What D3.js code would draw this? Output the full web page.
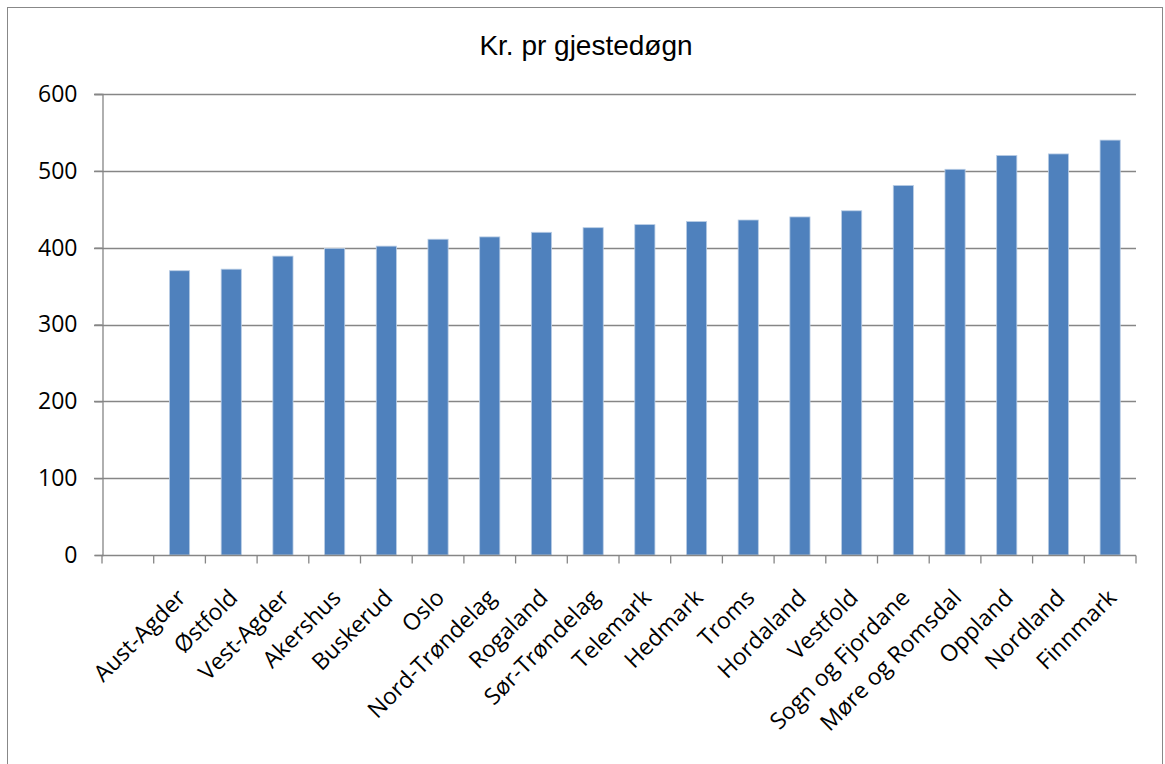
<!DOCTYPE html>
<html>
<head>
<meta charset="utf-8">
<script src="https://cdn.jsdelivr.net/npm/d3@7"></script>
<style>
  body { margin: 0; background: #fff; }
  .title { font-family: "Liberation Sans", Arial, sans-serif; font-size: 28px; }
  .axis text { font-family: "Open Sans", sans-serif; font-size: 23px; fill: #000; }
</style>
</head>
<body>
<svg id="chart"></svg>
<script>
// fylker, sortert etter pris
var fylker = ["", "Aust-Agder", "Østfold", "Vest-Agder", "Akershus", "Buskerud", "Oslo",
  "Nord-Trøndelag", "Rogaland", "Sør-Trøndelag", "Telemark", "Hedmark", "Troms",
  "Hordaland", "Vestfold", "Sogn og Fjordane", "Møre og Romsdal", "Oppland",
  "Nordland", "Finnmark"];
var kroner = [null, 370, 372, 389, 399, 402, 411, 414, 420, 426, 430, 434, 436,
  440, 448, 481, 502, 520, 522, 540];
var yTicks = [0, 100, 200, 300, 400, 500, 600];

var width = 1165,
    height = 764;

var margin = {top: 94, right: 29, bottom: 209, left: 102};

var svg = d3.select("#chart")
    .attr("width", width)
    .attr("height", height);

// ramme rundt diagrammet
svg.append("rect")
    .attr("x", 7.5).attr("y", 7.5)
    .attr("width", 1155).attr("height", 780)
    .attr("fill", "none")
    .attr("stroke", "#888");

var x = d3.scaleBand()
    .domain(fylker.map(function(d, i) { return i; }))
    .range([margin.left, width - margin.right])
    .paddingInner(0.61)
    .paddingOuter(0.305);

var y = d3.scaleLinear()
    .domain([0, 600])
    .range([height - margin.bottom, margin.top]);

svg.append("text")
    .attr("class", "title")
    .attr("x", 586)
    .attr("y", 55)
    .attr("text-anchor", "middle")
    .text("Kr. pr gjestedøgn");

// rutenett
svg.append("g")
    .selectAll("line")
    .data(yTicks.slice(1))
    .enter().append("line")
      .attr("x1", margin.left - 8)
      .attr("x2", width - margin.right)
      .attr("y1", function(d) { return Math.round(y(d)) + 0.5; })
      .attr("y2", function(d) { return Math.round(y(d)) + 0.5; })
      .attr("stroke", "#868686")
      .attr("stroke-width", 1.3);

// stolper
svg.append("g")
  .selectAll("rect")
    .data(kroner.map(function(v, i) { return {i: i, v: v}; }).filter(function(d) { return d.v != null; }))
  .enter().append("rect")
    .attr("x", function(d) { return x(d.i); })
    .attr("y", function(d) { return y(d.v); })
    .attr("width", x.bandwidth())
    .attr("height", function(d) { return y(0) - y(d.v); })
    .attr("fill", "#4f81bd")
    .attr("stroke", "#b9cde5")
    .attr("stroke-width", 0.8);

// y-akse
var yAxis = svg.append("g")
    .attr("class", "axis")
    .attr("transform", "translate(" + (margin.left + 0.5) + ",0)")
    .call(d3.axisLeft(y).tickValues(yTicks).tickSize(8).tickPadding(17));
yAxis.select(".domain").attr("stroke", "#868686").attr("stroke-width", 1.3);
yAxis.selectAll(".tick line").attr("stroke", "#868686").attr("stroke-width", 1.3);

// x-akse med skrå etiketter
var step = x.step();
var xAxis = svg.append("g")
    .attr("class", "axis")
    .attr("transform", "translate(0," + (Math.round(y(0)) + 0.5) + ")");
xAxis.append("line")
    .attr("x1", margin.left).attr("x2", width - margin.right)
    .attr("stroke", "#868686").attr("stroke-width", 1.3);
xAxis.selectAll(".tk")
    .data(d3.range(fylker.length + 1))
    .enter().append("line")
      .attr("class", "tk")
      .attr("x1", function(i) { return margin.left + i * step; })
      .attr("x2", function(i) { return margin.left + i * step; })
      .attr("y1", 0).attr("y2", 8)
      .attr("stroke", "#868686").attr("stroke-width", 1.3);
xAxis.selectAll("text")
    .data(fylker)
    .enter().append("text")
      .attr("text-anchor", "end")
      .attr("transform", function(d, i) {
        return "translate(" + (x(i) + x.bandwidth() / 2 + 2) + ",38) rotate(-45)";
      })
      .attr("dy", "0.35em")
      .text(function(d) { return d; });
</script>
</body>
</html>
